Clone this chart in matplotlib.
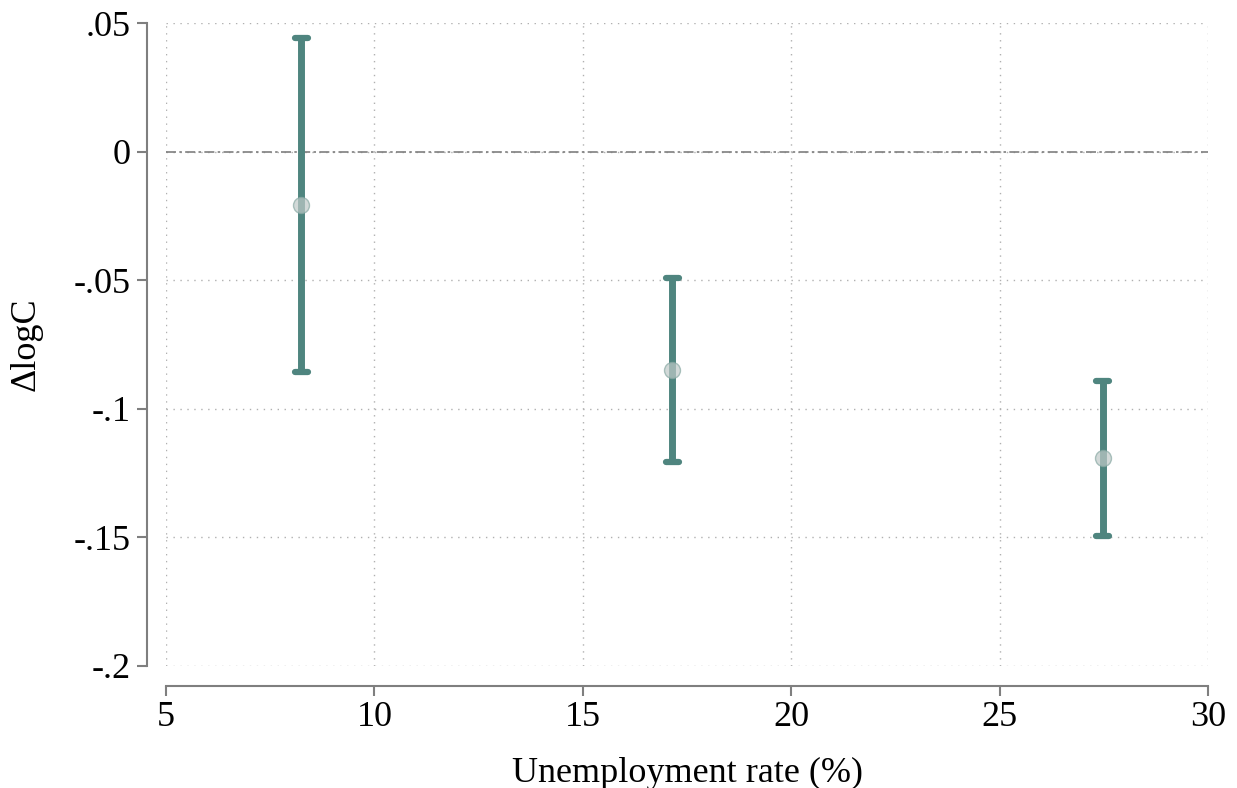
import numpy as np
import matplotlib
matplotlib.use("Agg")
import matplotlib.pyplot as plt

# values
unemp = [8.25, 17.15, 27.47]
dlogc = [-0.0208, -0.0848, -0.1190]
ci_low = [-0.0857, -0.1207, -0.1494]
ci_high = [0.0442, -0.0491, -0.0891]

yticks = [0.05, 0, -0.05, -0.1, -0.15, -0.2]
ytick_labels = [".05", "0", "-.05", "-.1", "-.15", "-.2"]
xticks = [5, 10, 15, 20, 25, 30]

plt.rcParams['font.family'] = ['Liberation Serif', 'DejaVu Serif']

fig = plt.figure(figsize=(12.37, 7.88), dpi=100)
ax = fig.add_axes([166/1237, 1-666/788, (1208-166)/1237, (666-23)/788])

teal = '#4f857f'
grey = '#7f7f7f'

ax.set_xlim(5, 30)
ax.set_ylim(-0.2, 0.05)

# grid
ax.set_xticks(xticks)
ax.set_yticks(yticks)
ax.set_yticklabels(ytick_labels)
ax.grid(True, linestyle=(0, (1, 4)), color='#b0b0b0', linewidth=1.0)
ax.set_axisbelow(True)

# zero line
ax.axhline(0, color=grey, linestyle=(0, (6, 2, 1.5, 2)), linewidth=1.2, zorder=1)

# confidence intervals
ax.vlines(unemp, ci_low, ci_high, color=teal, linewidth=5, zorder=3, clip_on=False)
ax.hlines(ci_low, np.array(unemp) - 0.15, np.array(unemp) + 0.15, color=teal,
          linewidth=4.5, capstyle='round', zorder=3, clip_on=False)
ax.hlines(ci_high, np.array(unemp) - 0.15, np.array(unemp) + 0.15, color=teal,
          linewidth=4.5, capstyle='round', zorder=3, clip_on=False)

# point estimates
ax.plot(unemp, dlogc, 'o', markersize=11.5, markerfacecolor='#c0cac8',
        markeredgecolor='#8aaaa5', markeredgewidth=1, alpha=0.7, zorder=4,
        linestyle='none')

for s in ['top', 'right']:
    ax.spines[s].set_visible(False)
ax.spines['left'].set_position(('outward', 13.7))
ax.spines['bottom'].set_position(('outward', 14.4))
for s in ['left', 'bottom']:
    ax.spines[s].set_color(grey)
    ax.spines[s].set_linewidth(1.5)

ax.tick_params(axis='both', colors=grey, labelcolor='black', labelsize=26,
               length=7, width=1.5)
ax.tick_params(axis='y', pad=5)
ax.tick_params(axis='x', pad=4)

ax.set_xlabel("Unemployment rate (%)", fontsize=26, labelpad=16)
ax.set_ylabel("ΔlogC", fontsize=26, labelpad=22)

fig.savefig("out.png", dpi=100)
